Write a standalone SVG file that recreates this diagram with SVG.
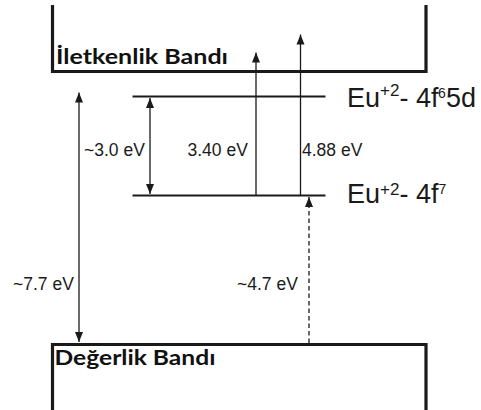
<svg xmlns="http://www.w3.org/2000/svg" width="481" height="410" viewBox="0 0 481 410">
<defs>
<style>
.band{fill:none;stroke:#1a1a1a;stroke-width:3.2;}
.lvl{stroke:#1a1a1a;stroke-width:2.2;}
.arr{stroke:#1a1a1a;stroke-width:1.3;fill:none;}
.dash{stroke-dasharray:4.5,3;}
.lbl{font-family:"Liberation Sans",Arial,sans-serif;font-size:17.5px;fill:#1a1a1a;}
.eu{font-family:"Liberation Sans",Arial,sans-serif;font-size:27px;fill:#1a1a1a;}
.bold{font-family:Lato,"Open Sans",sans-serif;font-weight:bold;font-size:20px;fill:#111;}
</style>
<marker id="ah" markerUnits="userSpaceOnUse" markerWidth="10" markerHeight="9" viewBox="0 0 10 8" refX="10" refY="4" orient="auto">
<path d="M0,0 L10,4 L0,8 z" fill="#1a1a1a"/>
</marker>
</defs>
<rect width="481" height="410" fill="#fff"/>
<g id="conduction-band">
<path class="band" d="M52.5,5 V71.5 H426 V5"/>
<text class="bold" x="56" y="64" textLength="172" lengthAdjust="spacingAndGlyphs">İletkenlik Bandı</text>
</g>
<g id="valence-band">
<path class="band" d="M52.5,410 V344.5 H426 V410"/>
<text class="bold" x="54.5" y="365" textLength="161" lengthAdjust="spacingAndGlyphs">Değerlik Bandı</text>
</g>
<g id="level-4f65d">
<line class="lvl" x1="132.5" y1="96.5" x2="325.5" y2="96.5"/>
<text class="eu" x="347" y="106.5">Eu<tspan dy="-10.5" font-size="17">+2</tspan><tspan dy="10.5">- 4f</tspan><tspan x="438" dy="-8.5" font-size="14">6</tspan><tspan x="446" dy="8.5">5d</tspan></text>
</g>
<g id="level-4f7">
<line class="lvl" x1="132.5" y1="195.5" x2="325.5" y2="195.5"/>
<text class="eu" x="347" y="203">Eu<tspan dy="-8.5" font-size="17">+2</tspan><tspan dy="8.5">- 4f</tspan><tspan dy="-9.5" font-size="14">7</tspan></text>
</g>
<g id="connectors">
<line class="arr" x1="150" y1="110" x2="150" y2="98" marker-end="url(#ah)"/>
<line class="arr" x1="150" y1="110" x2="150" y2="194" marker-end="url(#ah)"/>
<line class="arr" x1="256" y1="195" x2="256" y2="52.5" marker-end="url(#ah)"/>
<line class="arr" x1="300.5" y1="195" x2="300.5" y2="34.5" marker-end="url(#ah)"/>
<line class="arr" x1="79" y1="200" x2="79" y2="92.5" marker-end="url(#ah)"/>
<line class="arr" x1="79" y1="200" x2="79" y2="342" marker-end="url(#ah)"/>
<line class="arr dash" x1="309" y1="343" x2="309" y2="197" marker-end="url(#ah)"/>
</g>
<g id="labels">
<text class="lbl" x="84" y="156">~3.0 eV</text>
<text class="lbl" x="187.5" y="156">3.40 eV</text>
<text class="lbl" x="302" y="156">4.88 eV</text>
<text class="lbl" x="13" y="290">~7.7 eV</text>
<text class="lbl" x="237" y="290">~4.7 eV</text>
</g>
</svg>
